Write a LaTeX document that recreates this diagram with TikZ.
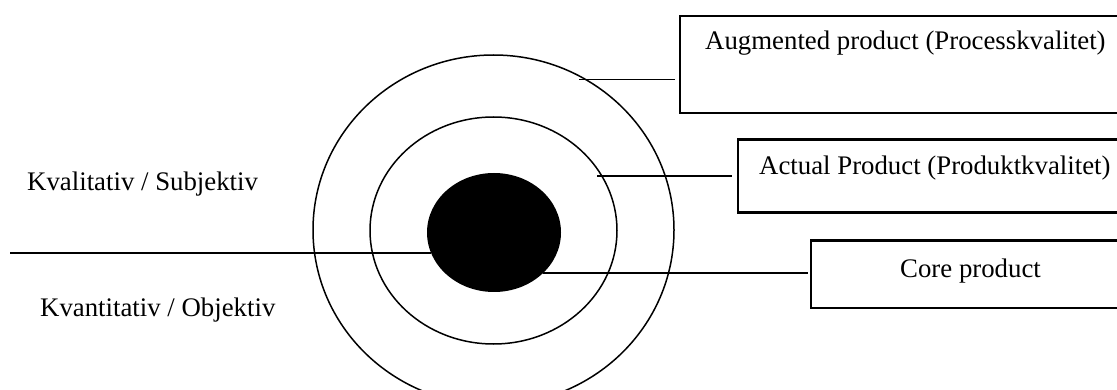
\documentclass[tikz,border=0pt]{standalone}
\usepackage{fontspec}
\setmainfont{Liberation Serif}
\usetikzlibrary{shapes.geometric}

\tikzset{
  ring/.style={draw, ellipse, line width=1.5pt, inner sep=0pt},
  corefill/.style={fill=black, ellipse, inner sep=0pt},
  labelbox/.style={draw, rectangle, line width=2.2pt, anchor=north west, inner sep=0pt},
  link/.style={line width=1.6pt},
  txt/.style={anchor=base west, inner sep=0pt, font=\fontsize{26.8}{32}\selectfont}
}

\begin{document}
\begin{tikzpicture}[x=1pt, y=-1pt]
  \useasboundingbox (0,0) rectangle (1117,390);

  % concentric product layers
  \node[ring, minimum width=361pt, minimum height=350pt] (augring) at (493.5,230) {};
  \node[ring, minimum width=247pt, minimum height=227pt] (actring) at (493.5,230.5) {};
  \node[corefill, minimum width=134pt, minimum height=119pt] (core) at (494,232.5) {};

  % label boxes (open to the right)
  \node[labelbox, minimum width=460pt, minimum height=97pt] (augbox) at (679,15) {};
  \node[labelbox, minimum width=400pt, minimum height=73pt] (actbox) at (737,138.5) {};
  \node[labelbox, minimum width=330pt, minimum height=67pt] (corebox) at (810,239.5) {};

  \node[txt] (augtxt) at (705,50) {Augmented product (Processkvalitet)};
  \node[txt] (acttxt) at (759,175) {Actual Product (Produktkvalitet)};
  \node[txt] (coretxt) at (900,277) {Core product};

  % connectors from the layers to their boxes
  \coordinate (augpt) at (579,79.5);
  \coordinate (actpt) at (597,176);
  \coordinate (corept) at (543,273);
  \draw[link, shorten >=4pt] (augpt) -- (augpt -| augbox.west);
  \draw[link, shorten >=5pt] (actpt) -- (actpt -| actbox.west);
  \draw[link, shorten >=2pt] (corept) -- (corept -| corebox.west);

  % dividing line between the two kinds of quality
  \coordinate (divstart) at (10,253);
  \coordinate (divend) at (431,253);
  \draw[link] (divstart) -- (divend);

  \node[txt] (qual) at (27,190.5) {Kvalitativ / Subjektiv};
  \node[txt] (quant) at (40,316.5) {Kvantitativ / Objektiv};
\end{tikzpicture}
\end{document}
